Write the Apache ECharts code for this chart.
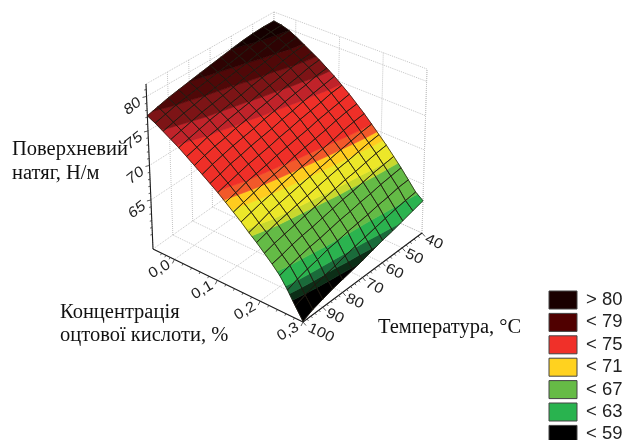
<!DOCTYPE html>
<html><head><meta charset="utf-8">
<style>html,body{margin:0;padding:0;background:#fff}#c{width:625px;height:440px}</style>
<script src="https://cdn.jsdelivr.net/npm/echarts@6/dist/echarts.min.js"></script>
</head><body><div id="c"></div>
<script>
// ---- data ----
const tempGrid = [40,45,50,55,60,65,70,75,80,85,90,95,100];
const concGrid = [-0.05,-0.0325,-0.015,0.0025,0.02,0.0375,0.055,0.0725,0.09,0.1075,0.125,0.1425,0.16,0.1775,0.195,0.2125,0.23,0.2475,0.265,0.2825,0.3];
const z40  = [80.4,80.2,79.8,79.2,78.5,77.8,77.1,76.3,75.5,74.6,73.7,72.7,71.7,70.6,69.5,68.4,67.2,66.0,64.7,63.4,62.6];
const z45  = [80.4,80.1,79.6,79.0,78.3,77.6,76.9,76.1,75.2,74.4,73.4,72.5,71.5,70.4,69.3,68.2,67.0,65.8,64.6,63.2,62.2];
const z50  = [80.3,79.9,79.3,78.6,78.0,77.3,76.5,75.7,74.9,74.0,73.1,72.2,71.2,70.1,69.0,67.9,66.8,65.6,64.3,63.0,61.8];
const z55  = [80.1,79.6,79.0,78.3,77.6,76.9,76.2,75.4,74.6,73.7,72.8,71.8,70.8,69.8,68.7,67.6,66.5,65.3,64.1,62.7,61.4];
const z60  = [79.8,79.2,78.6,78.0,77.3,76.6,75.8,75.1,74.2,73.4,72.4,71.5,70.5,69.5,68.5,67.4,66.2,65.1,63.8,62.4,61.1];
const z65  = [79.5,78.9,78.3,77.7,77.0,76.3,75.5,74.7,73.9,73.0,72.1,71.2,70.2,69.2,68.2,67.1,66.0,64.8,63.6,62.1,60.7];
const z70  = [79.2,78.6,78.0,77.3,76.6,75.9,75.2,74.4,73.5,72.7,71.8,70.9,69.9,68.9,67.9,66.8,65.7,64.6,63.4,61.8,60.3];
const z75  = [78.9,78.3,77.7,77.0,76.3,75.6,74.8,74.0,73.2,72.3,71.5,70.5,69.6,68.6,67.6,66.5,65.4,64.3,63.1,61.5,60.0];
const z80  = [78.6,78.0,77.4,76.7,76.0,75.3,74.5,73.7,72.9,72.0,71.1,70.2,69.3,68.3,67.3,66.2,65.1,64.0,62.9,61.1,59.7];
const z85  = [78.3,77.7,77.0,76.4,75.7,74.9,74.1,73.4,72.5,71.7,70.8,69.9,68.9,68.0,67.0,65.9,64.9,63.8,62.5,60.8,59.4];
const z90  = [78.0,77.4,76.7,76.0,75.3,74.6,73.8,73.0,72.2,71.3,70.5,69.5,68.6,67.7,66.7,65.6,64.6,63.5,62.2,60.5,59.0];
const z95  = [77.6,77.0,76.3,75.6,74.9,74.1,73.4,72.6,71.7,70.9,70.0,69.1,68.2,67.2,66.3,65.3,64.2,63.2,61.8,60.1,58.6];
const z100 = [77.2,76.6,75.9,75.2,74.5,73.7,72.9,72.1,71.3,70.5,69.6,68.7,67.8,66.8,65.9,64.9,63.9,62.8,61.3,59.6,58.0];
const surfaceRows = [z40,z45,z50,z55,z60,z65,z70,z75,z80,z85,z90,z95,z100];

const bandTops   = [60.2,60.9,61.7,63.2,66.5,67.1,68.9,69.8,70.6,74.7,76,77.4,78.6,79.8,99];
const bandColors = ['#000000','#0c2e17','#1a6b3a','#2bb34f','#64bb46','#c8d82e','#ece729','#ffcc1f','#f2592a','#ef2f28','#c0232a','#7d1416','#500808','#2e0303','#150000'];

const zTicks = [65,70,75,80];
const concTicks = [0.0,0.1,0.2,0.3];
const tempTicks = [40,50,60,70,80,90,100];
const concLabels = ['0,0','0,1','0,2','0,3'];
const legendLabels = ['> 80','< 79','< 75','< 71','< 67','< 63','< 59'];
const legendColors = ['#1a0000','#500000','#f03029','#ffd21f','#66bb46','#29b34f','#000000'];

// ---- view of the 3D box ----
const T0=40,T1=100,C0=-0.05,C1=0.3,Z0=57.9,Z1=81.8;
const box = {
  '000':[272,165],'100':[153,249],'010':[422,233],'110':[303,322],
  '001':[274,12], '101':[146,84], '011':[427,69], '111':[300,147]
};
function project(T,C,z){
  const u=(T-T0)/(T1-T0),v=(C-C0)/(C1-C0),w=(z-Z0)/(Z1-Z0);
  let x=0,y=0;
  for(const a of [0,1])for(const b of [0,1])for(const c of [0,1]){
    const k=(a?u:1-u)*(b?v:1-v)*(c?w:1-w),p=box[''+a+b+c];
    x+=k*p[0];y+=k*p[1];
  }
  return [x,y];
}
function clip(poly,level,keepAbove){
  const out=[];
  for(let i=0;i<poly.length;i++){
    const a=poly[i],b=poly[(i+1)%poly.length];
    const ia=keepAbove?a[2]>=level:a[2]<=level, ib=keepAbove?b[2]>=level:b[2]<=level;
    if(ia)out.push(a);
    if(ia!==ib){const t=(level-a[2])/(b[2]-a[2]);out.push([a[0]+t*(b[0]-a[0]),a[1]+t*(b[1]-a[1]),level]);}
  }
  return out;
}
const cells=[];
for(let i=0;i<tempGrid.length-1;i++)for(let j=0;j<concGrid.length-1;j++)cells.push([i,j]);
cells.sort((a,b)=>(a[0]+a[1])-(b[0]+b[1]));
function cellPoly(i,j){
  return [[i,j],[i+1,j],[i+1,j+1],[i,j+1]].map(q=>[tempGrid[q[0]],concGrid[q[1]],surfaceRows[q[0]][q[1]]]);
}
function toPx(api,p){return api.coord(project(p[0],p[1],p[2]));}

const fillItem=(params,api)=>{
  const poly=cellPoly(api.value(0),api.value(1));const children=[];
  let lo=-Infinity;
  bandTops.forEach((top,k)=>{
    let part=clip(poly,top,false);
    if(lo>-Infinity&&part.length)part=clip(part,lo,true);
    lo=top;
    if(part.length>2)children.push({type:'polygon',shape:{points:part.map(p=>toPx(api,p))},
      style:{fill:bandColors[k],stroke:bandColors[k],lineWidth:0.7}});
  });
  return {type:'group',children};
};
const meshItem=(params,api)=>({type:'polygon',shape:{points:cellPoly(api.value(0),api.value(1)).map(p=>toPx(api,p))},
  style:{fill:'none',stroke:'rgba(30,25,15,0.72)',lineWidth:1}});

// wall and floor lines: [T,C,z, T,C,z]
const wall=[];
tempTicks.forEach(t=>{wall.push([t,C0,Z0,t,C0,Z1]);wall.push([t,C0,Z0,t,C1,Z0]);});
concTicks.forEach(c=>{wall.push([T0,c,Z0,T0,c,Z1]);wall.push([T0,c,Z0,T1,c,Z0]);});
zTicks.concat([Z1]).forEach(z=>{wall.push([T1,C0,z,T0,C0,z]);wall.push([T0,C0,z,T0,C1,z]);});
wall.push([T0,C0,Z0,T0,C0,Z1],[T0,C0,Z0,T0,C1,Z0],[T0,C0,Z0,T1,C0,Z0],[T0,C1,Z0,T0,C1,Z1]);
const lineItem=(style)=>(params,api)=>{
  const a=api.coord(project(api.value(0),api.value(1),api.value(2))),b=api.coord(project(api.value(3),api.value(4),api.value(5)));
  return {type:'line',shape:{x1:a[0],y1:a[1],x2:b[0],y2:b[1]},style};
};
const axes=[[T1,C0,Z0,T1,C0,Z1],[T1,C0,Z0,T1,C1,Z0],[T1,C1,Z0,T0,C1,Z0]];
const ticks=[];
function tick(T,C,z,dx,dy){const p=project(T,C,z);return [p[0],p[1],p[0]+dx,p[1]+dy];}
zTicks.forEach(z=>ticks.push(tick(T1,C0,z,-4,1)));
for(const z of [60,61,62,63,64,66,67,68,69,71,72,73,74,76,77,78,79,81])ticks.push(tick(T1,C0,z,-2,0.5));
concTicks.forEach(c=>ticks.push(tick(T1,c,Z0,-2,4)));
for(const c of [-0.03,-0.02,-0.01,0.02,0.04,0.06,0.08,0.12,0.14,0.16,0.18,0.22,0.24,0.26,0.28])ticks.push(tick(T1,c,Z0,-1,2));
tempTicks.forEach(t=>ticks.push(tick(t,C1,Z0,3,3.5)));
for(let t=42;t<100;t+=2)if(t%10)ticks.push(tick(t,C1,Z0,1.5,1.8));

// tick labels: text, anchor, rotation (deg), style
const labelRows=[];
zTicks.forEach(z=>{const p=project(T1,C0,z);labelRows.push([String(z),p[0]-14,p[1]+10,38,'italic ']);});
concTicks.forEach((c,i)=>{const p=project(T1,c,Z0);labelRows.push([concLabels[i],p[0]-15,p[1]+10,30,'']);});
tempTicks.forEach(t=>{const p=project(t,C1,Z0);const w=String(t).length>2?6:0;labelRows.push([String(t),p[0]+12+w,p[1]+9+w/3,-25,'']);});

const chart=echarts.init(document.getElementById('c'),null,{renderer:'canvas'});
const serif='"Liberation Serif","Times New Roman",serif';
const sans='"Liberation Sans",Arial,sans-serif';
const titleText=[['Поверхневий',12,150],['натяг, Н/м',12,174],['Концентрація',60,313],['оцтової кислоти, %',60,336],['Температура, °C',378,328]];
chart.setOption({
  animation:false,
  grid:{left:0,right:0,top:0,bottom:0},
  xAxis:{type:'value',min:0,max:625,show:false},
  yAxis:{type:'value',min:0,max:440,inverse:true,show:false},
  series:[
    {type:'custom',silent:true,data:wall,renderItem:lineItem({stroke:'#c4c4c4',lineWidth:1,lineDash:[1,1]}),z:1},
    {type:'custom',silent:true,data:cells,renderItem:fillItem,z:2},
    {type:'custom',silent:true,data:cells,renderItem:meshItem,z:3},
    {type:'custom',silent:true,data:axes,renderItem:lineItem({stroke:'#1c1c1c',lineWidth:1.1}),z:4},
    {type:'custom',silent:true,data:ticks,z:4,renderItem:(p,api)=>{
      const a=api.coord([api.value(0),api.value(1)]),b=api.coord([api.value(2),api.value(3)]);
      return {type:'line',shape:{x1:a[0],y1:a[1],x2:b[0],y2:b[1]},style:{stroke:'#333',lineWidth:0.8}};}},
    {type:'custom',silent:true,z:5,data:labelRows.map((r,i)=>[r[1],r[2],i]),renderItem:(p,api)=>{
      const a=api.coord([api.value(0),api.value(1)]),r=labelRows[api.value(2)];
      return {type:'text',x:a[0],y:a[1],rotation:r[3]*Math.PI/180,scaleX:1.12,
        style:{text:r[0],font:r[4]+'14.5px '+sans,fill:'#222',align:'center',verticalAlign:'middle'}};}},
    {type:'custom',silent:true,z:5,data:titleText.map((r,i)=>[r[1],r[2],i]),renderItem:(p,api)=>{
      const a=api.coord([api.value(0),api.value(1)]),r=titleText[api.value(2)];
      return {type:'text',x:a[0],y:a[1],style:{text:r[0],font:'20.5px '+serif,fill:'#111',align:'left',verticalAlign:'middle'}};}},
    {type:'custom',silent:true,z:5,data:legendLabels.map((l,i)=>[549,291+i*22.4,i]),renderItem:(p,api)=>{
      const a=api.coord([api.value(0),api.value(1)]),i=api.value(2);
      return {type:'group',children:[
        {type:'rect',shape:{x:a[0],y:a[1],width:28,height:18},style:{fill:legendColors[i],stroke:'#444',lineWidth:1}},
        {type:'text',x:a[0]+37,y:a[1]+9,style:{text:legendLabels[i],font:'18.5px '+sans,fill:'#222',align:'left',verticalAlign:'middle'}}
      ]};}}
  ]
});
</script></body></html>
